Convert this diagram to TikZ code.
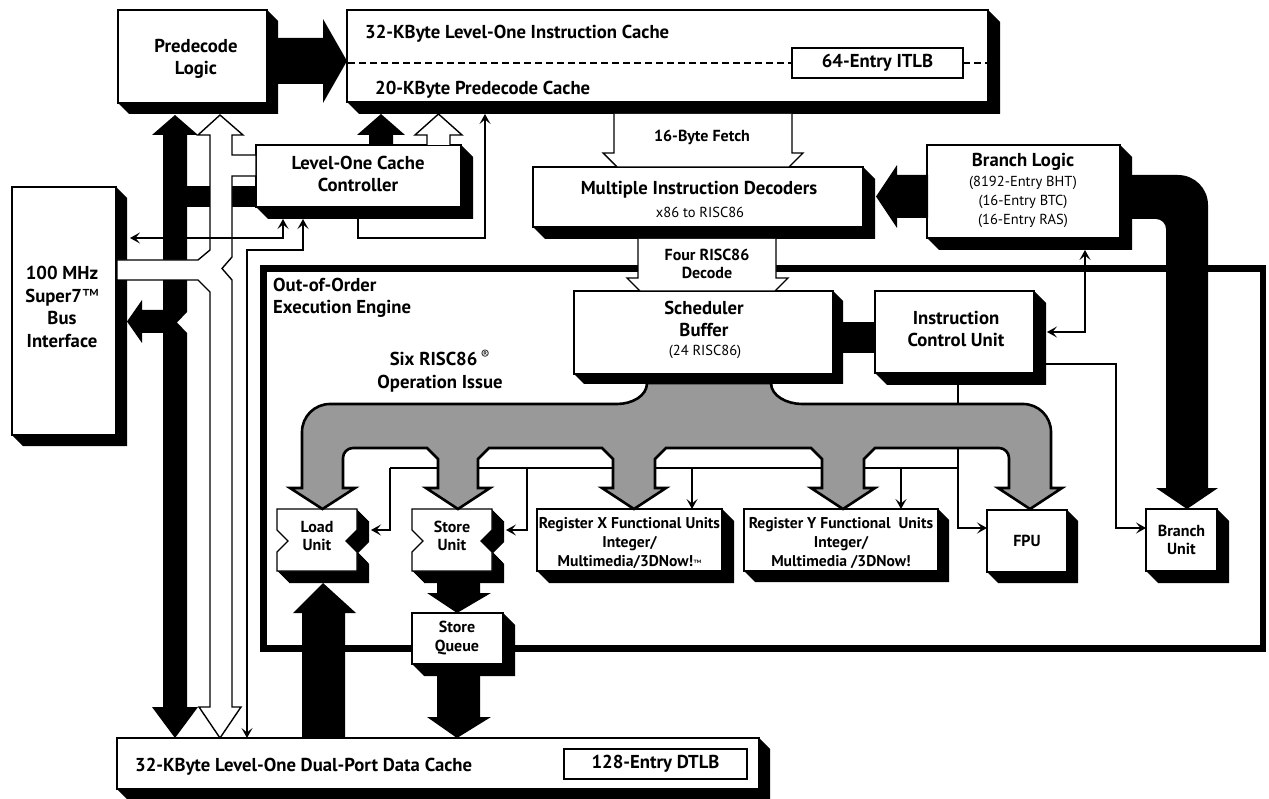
\documentclass[tikz,border=0pt]{standalone}
\usepackage{fontspec}
\setmainfont{PT Sans}
\usetikzlibrary{arrows.meta}
\pgfdeclarelayer{bg}
\pgfsetlayers{bg,main}
\definecolor{busgray}{RGB}{153,153,153}
\newcommand\fbig{\fontsize{18.7}{22.5}\selectfont\bfseries}
\newcommand\fmed{\fontsize{16}{18.7}\selectfont\bfseries}
\newcommand\freg{\fontsize{15.6}{19}\selectfont\bfseries}
\newcommand\flight{\fontsize{14.5}{18.6}\selectfont}
\newcommand\shad[2]{\begin{pgfonlayer}{bg}\fill (#1.north east) -- ++(#2,#2) -- ([shift={(#2,#2)}]#1.south east) -- ([shift={(#2,#2)}]#1.south west) -- (#1.south west) -- cycle;\end{pgfonlayer}}
\newcommand\notchunit[2]{%
 \begin{pgfonlayer}{bg}\begin{scope}[shift={(#1,#2)}]\foreach \s in {0,1,...,12}{\fill[shift={(\s,\s)}] (0,0) -- (80,0) -- (80,21) -- (69,32) -- (80,43) -- (80,62) -- (0,62) -- (0,43) -- (11,32) -- (0,21) -- cycle;}\end{scope}\end{pgfonlayer}
 \draw[line width=1.4pt, fill=white, shift={(#1,#2)}] (0,0) -- (80,0) -- (80,21) -- (69,32) -- (80,43) -- (80,62) -- (0,62) -- (0,43) -- (11,32) -- (0,21) -- cycle;}
\begin{document}
\begin{tikzpicture}[x=1pt,y=-1pt,line join=miter,
  box/.style={draw, line width=1.4pt, fill=white, inner sep=0pt, outer sep=0pt, anchor=north west},
  lbl/.style={inner sep=0pt, align=center},
  hollow/.style={draw, fill=white, line width=1.4pt},
  grayarr/.style={draw, fill=busgray, line width=2.6pt},
  conn/.style={line width=1.4pt, >={Stealth[length=10pt,width=11pt,inset=4.5pt]}}]
\useasboundingbox (0,0) rectangle (1269,799);
% out-of-order engine frame
\begin{pgfonlayer}{bg}
\draw[line width=6.5pt] (263.5,268.5) rectangle (1263,648.5);
\end{pgfonlayer}
% boxes
\node[box, minimum width=149pt, minimum height=93pt] (pred) at (118,10) {};
\node[box, minimum width=641pt, minimum height=92pt] (icache) at (347,10) {};
\node[box, minimum width=171pt, minimum height=30pt] (itlb) at (792,48) {};
\node[box, minimum width=205pt, minimum height=62pt] (ctrl) at (256,145) {};
\node[box, minimum width=104pt, minimum height=248pt] (bus) at (12,187) {};
\node[box, minimum width=330pt, minimum height=60pt] (dec) at (533,167) {};
\node[box, minimum width=193pt, minimum height=93pt] (brl) at (927,145) {};
\node[box, minimum width=259pt, minimum height=83pt] (sched) at (574,291) {};
\node[box, minimum width=159pt, minimum height=82pt] (icu) at (875,291) {};
\node[box, minimum width=185pt, minimum height=62pt] (regx) at (537,509) {};
\node[box, minimum width=194pt, minimum height=62pt] (regy) at (744,509) {};
\node[box, minimum width=80pt, minimum height=62pt] (fpu) at (987,510) {};
\node[box, minimum width=71pt, minimum height=62pt] (bru) at (1146,509) {};
\node[box, minimum width=91pt, minimum height=51pt] (sq) at (412,613) {};
\node[box, minimum width=642pt, minimum height=51pt] (dcache) at (117,738) {};
\node[box, minimum width=183pt, minimum height=30pt] (dtlb) at (564,749) {};
\shad{pred}{11}\shad{icache}{12}\shad{ctrl}{12}\shad{bus}{11}\shad{dec}{12}
\shad{brl}{12}\shad{sched}{10}\shad{icu}{12}\shad{regx}{12}\shad{regy}{11}
\shad{fpu}{11}\shad{bru}{12}\shad{sq}{12}\shad{dcache}{11}
\notchunit{277}{509}
\notchunit{412}{509}
% dashed line in the instruction cache
\draw[line width=1.4pt, dash pattern=on 7pt off 4pt] (348,63) -- (itlb.west);
\draw[line width=1.4pt, dash pattern=on 7pt off 4pt] (itlb.east) -- (987,63);
% big black arrows
\fill (266,38) -- (323,38) -- (323,19) -- (347,61) -- (323,103) -- (323,84) -- (266,84) -- cycle;
\fill (369,146) -- (369,135) -- (357,135) -- (381,114) -- (405,135) -- (393,135) -- (393,146) -- cycle;
\path[hollow] (427,145) -- (427,135) -- (415,135) -- (438.5,114) -- (462,135) -- (450,135) -- (450,145);
\path[hollow] (614,114) -- (614,153) -- (603,153) -- (617,167) -- (789,167) -- (803,153) -- (792,153) -- (792,114);
\path[hollow] (638,239) -- (638,278) -- (627,278) -- (640,291) -- (775,291) -- (788,278) -- (776,278) -- (776,239);
\fill (842,322) rectangle (876,353);
\fill (876,196.5) -- (897,165) -- (897,175) -- (928,175) -- (928,218) -- (897,218) -- (897,228) -- cycle;
\fill (1132,175) -- (1178,175) .. controls (1194.6,175) and (1208,188.4) .. (1208,205) -- (1208,488) -- (1218,488) -- (1187,509) -- (1156,488) -- (1166,488) -- (1166,229) .. controls (1166,223.5) and (1161.5,219) .. (1156,219) -- (1132,219) -- cycle;
\fill (437,583) -- (437,593) -- (427,593) -- (457,613) -- (491,593) -- (480,593) -- (480,583) -- cycle;
\fill (437,676) -- (437,717) -- (427,717) -- (457,738) -- (491,717) -- (480,717) -- (480,676) -- cycle;
\fill (302,738) -- (302,613) -- (293,613) -- (323,583) -- (356,613) -- (345,613) -- (345,738) -- cycle;
% system bus (left)
\fill (175,115) -- (198,135) -- (187,135) -- (187,312) -- (177,322.5) -- (187,333) -- (187,707) -- (198,707) -- (175,738) -- (152,707) -- (163,707) -- (163,135) -- (152,135) -- cycle;
\fill (186,186) rectangle (256,207);
\fill (127,321.5) -- (142,300) -- (142,310) -- (164,310) -- (164,333) -- (142,333) -- (142,343) -- cycle;
\path[hollow] (220,115) -- (243,135) -- (232,135) -- (232,155) -- (256,155) -- (256,176) -- (232,176) -- (232,257) -- (222,268.5) -- (232,280) -- (232,707) -- (241,707) -- (220,738) -- (199,707) -- (210,707) -- (210,292) -- (198,280) -- (117,280) -- (117,260) -- (198,260) -- (210,250) -- (210,135) -- (198,135) -- cycle;
% thin connectors
\draw[conn,<->] (130,238) -- (283,238) -- (283,219);
\draw[conn,<->] (303,219) -- (303,250) -- (247,250) -- (247,738);
\draw[conn,->] (358,219) -- (358,238) -- (485,238) -- (485,114);
\draw[conn,<->] (1047,332) -- (1085,332) -- (1085,250);
\draw[conn,->] (1046,364) -- (1116,364) -- (1116,528) -- (bru.west |- 0,528);
\draw[conn,->] (958,385) -- (958,528) -- (fpu.west |- 0,528);
\draw[conn] (958,468) -- (390,468);
\draw[conn,->] (390,468) -- (390,530) -- (371,530);
\draw[conn,->] (527,468) -- (527,530) -- (506,530);
\draw[conn,->] (692,468) -- (regx.north -| 692,0);
\draw[conn,->] (901,468) -- (regy.north -| 901,0);
% gray issue bus
\path[grayarr] (647,383) .. controls (647,396) and (632,404) .. (617,404)
 -- (330,404) .. controls (314.5,404) and (302,416.5) .. (302,432)
 -- (302,488) -- (290,488) -- (322.5,509) -- (355,488) -- (343,488) -- (343,458)
 .. controls (343,452.5) and (347.5,448) .. (353,448)
 -- (427,448) -- (438,459) -- (438,488) -- (426,488) -- (458,509) -- (490,488) -- (478,488) -- (478,459) -- (489,448)
 -- (602,448) -- (613,459) -- (613,488) -- (602,488) -- (634,509) -- (666,488) -- (655,488) -- (655,459) -- (666,448)
 -- (811,448) -- (822,459) -- (822,488) -- (811,488) -- (843,509) -- (875,488) -- (864,488) -- (864,459) -- (875,448)
 -- (999,448) .. controls (1004.5,448) and (1009,452.5) .. (1009,458)
 -- (1009,488) -- (998,488) -- (1030,509) -- (1062,488) -- (1051,488) -- (1051,432)
 .. controls (1051,416.5) and (1038.5,404) .. (1023,404)
 -- (802,404) .. controls (787,404) and (771,396) .. (771,383) -- cycle;
% labels
\node[lbl,font=\fbig] (predT) at (196,59) {Predecode\\Logic};
\node[lbl,font=\fbig,anchor=west] (icT) at (365,34) {32-KByte Level-One Instruction Cache};
\node[lbl,font=\fbig,anchor=west] (pcT) at (375,90) {20-KByte Predecode Cache};
\node[lbl,font=\fbig] (itlbT) at (itlb.center) {64-Entry ITLB};
\node[lbl,font=\fbig] (ctrlT) at (358,174) {Level-One Cache\\Controller};
\node[lbl,font=\fbig] (busT) at (62,307) {100 MHz\\Super7{\mdseries ™}\\Bus\\Interface};
\node[lbl,font=\fmed] (fetchT) at (702,137) {16-Byte Fetch};
\node[lbl,font=\fbig] (decT) at (699,190) {Multiple Instruction Decoders};
\node[lbl,font=\flight] (decS) at (700,212) {x86 to RISC86};
\node[lbl,font=\fbig] (brT) at (1023,162) {Branch Logic};
\node[lbl,font=\flight] (brS) at (1023,202) {(8192-Entry BHT)\\(16-Entry BTC)\\(16-Entry RAS)};
\node[lbl,font=\fmed] (fourT) at (707,264) {Four RISC86\\Decode};
\node[lbl,font=\fbig] (schT) at (704,319) {Scheduler\\Buffer};
\node[lbl,font=\flight] (schS) at (705,352) {(24 RISC86)};
\node[lbl,font=\fbig] (icuT) at (956,329) {Instruction\\Control Unit};
\node[lbl,font=\fbig,anchor=west,align=left] (oooT) at (273,298) {Out-of-Order\\Execution Engine};
\node[lbl,font=\fbig] (sixT) at (440,371) {Six RISC86\,\textsuperscript{\mdseries ®}\\Operation Issue};
\node[lbl,font=\fmed] (loadT) at (317,536) {Load\\Unit};
\node[lbl,font=\fmed] (storeT) at (452,536) {Store\\Unit};
\node[lbl,font=\freg] (rxT) at (629.5,543) {Register X Functional Units\\Integer/\\Multimedia/3DNow!{\mdseries\fontsize{9}{9}\selectfont ™}};
\node[lbl,font=\freg] (ryT) at (841,543) {Register Y Functional\ \ Units\\Integer/\\Multimedia /3DNow!};
\node[lbl,font=\fmed] (fpuT) at (fpu.center) {FPU};
\node[lbl,font=\fmed] (bruT) at (bru.center) {Branch\\Unit};
\node[lbl,font=\fmed] (sqT) at (457,638) {Store\\Queue};
\node[lbl,font=\fbig,anchor=west] (dcT) at (135,767) {32-KByte Level-One Dual-Port Data Cache};
\node[lbl,font=\fbig] (dtlbT) at (dtlb.center) {128-Entry DTLB};
\end{tikzpicture}
\end{document}
